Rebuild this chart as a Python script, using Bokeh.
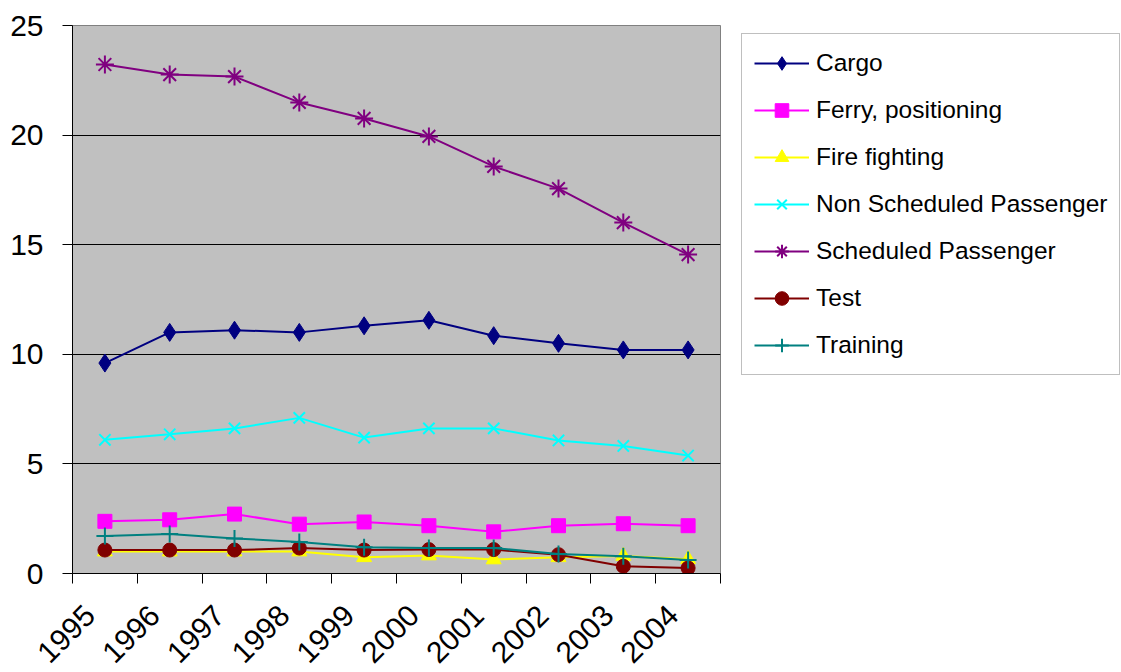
import numpy as np
from bokeh.plotting import figure
from bokeh.models import FixedTicker, Legend, LegendItem, Range1d
from bokeh.embed import file_html
from bokeh.resources import INLINE

years = ["1995", "1996", "1997", "1998", "1999", "2000", "2001", "2002", "2003", "2004"]

cargo = [9.6, 11.0, 11.1, 11.0, 11.3, 11.55, 10.85, 10.5, 10.2, 10.2]
ferry = [2.38, 2.45, 2.71, 2.25, 2.35, 2.18, 1.9, 2.18, 2.27, 2.18]
fire = [1.0, 1.0, 1.0, 1.0, 0.74, 0.82, 0.64, 0.74, 0.8, 0.65]
non_sched = [6.1, 6.35, 6.62, 7.1, 6.2, 6.62, 6.62, 6.07, 5.82, 5.38]
sched = [23.22, 22.76, 22.67, 21.49, 20.76, 19.94, 18.57, 17.56, 16.01, 14.55]
test = [1.07, 1.07, 1.07, 1.16, 1.07, 1.09, 1.09, 0.86, 0.33, 0.25]
training = [1.71, 1.8, 1.6, 1.44, 1.2, 1.16, 1.16, 0.89, 0.79, 0.62]

y_ticks = [0, 5, 10, 15, 20, 25]

series = [
    ("Cargo", cargo, "#000080", "diamond", 18),
    ("Ferry, positioning", ferry, "#FF00FF", "square", 14),
    ("Fire fighting", fire, "#FFFF00", "triangle", 15),
    ("Non Scheduled Passenger", non_sched, "#00FFFF", "x", 16),
    ("Scheduled Passenger", sched, "#800080", "asterisk", 18),
    ("Test", test, "#800000", "circle", 14),
    ("Training", training, "#008080", "cross", 17),
]

n = len(years)
xs = np.arange(n) + 0.5
label_pos = xs - 0.23

p = figure(frame_width=648, frame_height=548, output_backend="svg", toolbar_location=None,
           x_range=Range1d(0, n), y_range=Range1d(0, 25),
           min_border_left=72, min_border_top=25, min_border_bottom=99, min_border_right=0)
p.background_fill_color = "#C0C0C0"
p.border_fill_color = "white"
p.outline_line_color = "#808080"
p.outline_line_width = 1

items = []
for name, vals, color, marker, size in series:
    r1 = p.line(xs, vals, line_color=color, line_width=2)
    kw = dict(size=size, line_color=color)
    if marker in ("x", "asterisk", "cross"):
        kw["line_width"] = 2
        kw["fill_color"] = None
    else:
        kw["fill_color"] = color
        kw["line_width"] = 1
    r2 = p.scatter(xs, vals, marker=marker, **kw)
    items.append(LegendItem(label=name, renderers=[r1, r2]))

# axes
p.yaxis.ticker = FixedTicker(ticks=y_ticks)
p.yaxis.major_tick_out = 10
p.yaxis.major_tick_in = 0
p.yaxis.minor_tick_out = 0
p.yaxis.minor_tick_in = 0
p.yaxis.axis_line_color = "black"
p.yaxis.major_tick_line_color = "black"
p.yaxis.major_label_text_font = "Liberation Sans"
p.yaxis.major_label_text_font_size = "30px"
p.yaxis.major_label_text_color = "black"
p.yaxis.major_label_standoff = 19

p.xaxis.ticker = FixedTicker(ticks=list(label_pos), minor_ticks=list(range(n + 1)))
p.xaxis.major_label_overrides = {float(x): y for x, y in zip(label_pos, years)}
p.xaxis.major_tick_out = 0
p.xaxis.major_tick_in = 0
p.xaxis.minor_tick_out = 10
p.xaxis.minor_tick_in = 0
p.xaxis.minor_tick_line_color = "black"
p.xaxis.axis_line_color = "black"
p.xaxis.major_label_orientation = np.pi / 4
p.xaxis.major_label_text_font = "Liberation Sans"
p.xaxis.major_label_text_font_size = "30px"
p.xaxis.major_label_text_color = "black"
p.xaxis.major_label_standoff = 27

p.xgrid.grid_line_color = None
p.ygrid.ticker = FixedTicker(ticks=[5, 10, 15, 20])
p.ygrid.grid_line_color = "black"
p.ygrid.grid_line_width = 1

legend = Legend(items=items, location=(21, 198))
legend.label_text_font = "Liberation Sans"
legend.label_text_font_size = "24.5px"
legend.label_text_color = "black"
legend.glyph_width = 55
legend.glyph_height = 34
legend.label_height = 34
legend.label_standoff = 7
legend.spacing = 13
legend.padding = 12
legend.margin = 0
legend.border_line_color = "#808080"
legend.border_line_width = 1
legend.background_fill_color = "white"
legend.background_fill_alpha = 1
p.add_layout(legend, "right")

open("out.html", "w").write(file_html(p, INLINE))
